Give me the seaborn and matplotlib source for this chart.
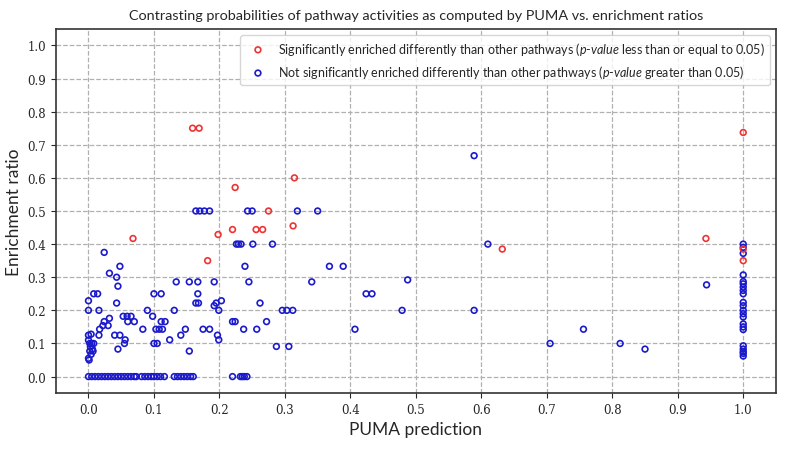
import matplotlib
matplotlib.use("Agg")
import matplotlib.pyplot as plt
import seaborn as sns
import numpy as np

# significant pathways (red)
sig_x = [0.068, 0.159, 0.169, 0.182, 0.198, 0.22, 0.224, 0.256, 0.266,
         0.275, 0.3125, 0.3145, 0.632, 0.943, 1.0, 1.0, 1.0]
sig_y = [0.417, 0.75, 0.75, 0.35, 0.429, 0.444, 0.571, 0.444, 0.444,
         0.5, 0.455, 0.6, 0.385, 0.417, 0.737, 0.385, 0.35]

# not significant pathways (blue)
# ratio exactly zero
zero_x = [0.0, 0.005, 0.01, 0.015, 0.02, 0.025, 0.03, 0.035, 0.04, 0.045,
          0.05, 0.055, 0.06, 0.065, 0.07, 0.073, 0.081, 0.086, 0.091, 0.096,
          0.1, 0.105, 0.11, 0.116, 0.131, 0.136, 0.141, 0.146, 0.151, 0.156,
          0.16, 0.22, 0.232, 0.235, 0.238, 0.242]
# rest of the non significant points
ns_x = [0.0, 0.0, 0.0, 0.004, 0.0, 0.002, 0.005, 0.008, 0.003, 0.006,
        0.002, 0.007, 0.004, 0.0, 0.001,
        0.008, 0.014, 0.016, 0.024, 0.032, 0.048, 0.043, 0.045, 0.043, 0.032,
        0.024, 0.022, 0.03, 0.017, 0.016, 0.04, 0.048, 0.045, 0.053, 0.059,
        0.065, 0.06, 0.07, 0.056, 0.055, 0.083, 0.09, 0.098, 0.1, 0.111,
        0.111, 0.117, 0.103, 0.108, 0.113, 0.1, 0.105, 0.124,
        0.131, 0.141, 0.148, 0.154, 0.134, 0.154, 0.167, 0.192, 0.245, 0.167,
        0.164, 0.168, 0.203, 0.195, 0.192, 0.199, 0.175, 0.185, 0.197, 0.199,
        0.22, 0.224, 0.237, 0.257, 0.262, 0.272, 0.239, 0.164, 0.17, 0.177,
        0.185, 0.243, 0.25, 0.226, 0.229, 0.233, 0.251,
        0.281, 0.319, 0.35, 0.368, 0.389, 0.341, 0.424, 0.433, 0.296, 0.303,
        0.312, 0.407, 0.287, 0.306, 0.4875, 0.479,
        0.589, 0.61, 0.589, 0.705, 0.756, 0.812, 0.85, 0.944,
        1.0, 1.0, 1.0, 1.0, 1.0, 1.0, 1.0, 1.0, 1.0, 1.0, 1.0,
        1.0, 1.0, 1.0, 1.0, 1.0, 1.0, 1.0, 1.0, 1.0, 1.0, 1.0]
ns_y = [0.229, 0.2, 0.125, 0.128, 0.11, 0.1, 0.1, 0.1, 0.09, 0.083,
        0.077, 0.077, 0.067, 0.055, 0.05,
        0.25, 0.25, 0.2, 0.375, 0.312, 0.333, 0.3, 0.273, 0.222, 0.176,
        0.166, 0.154, 0.154, 0.143, 0.125, 0.125, 0.125, 0.083, 0.182, 0.182,
        0.182, 0.166, 0.166, 0.111, 0.1, 0.143, 0.2, 0.182, 0.25, 0.25,
        0.166, 0.166, 0.143, 0.143, 0.143, 0.1, 0.1, 0.111,
        0.2, 0.125, 0.143, 0.077, 0.286, 0.286, 0.286, 0.286, 0.286, 0.25,
        0.222, 0.222, 0.229, 0.222, 0.214, 0.2, 0.143, 0.143, 0.125, 0.111,
        0.166, 0.166, 0.143, 0.143, 0.222, 0.166, 0.333, 0.5, 0.5, 0.5,
        0.5, 0.5, 0.5, 0.4, 0.4, 0.4, 0.4,
        0.4, 0.5, 0.5, 0.333, 0.333, 0.286, 0.25, 0.25, 0.2, 0.2,
        0.2, 0.143, 0.091, 0.091, 0.292, 0.2,
        0.667, 0.4, 0.2, 0.1, 0.143, 0.1, 0.083, 0.277,
        0.4, 0.39, 0.372, 0.307, 0.287, 0.28, 0.27, 0.26, 0.25, 0.224, 0.214,
        0.2, 0.19, 0.18, 0.159, 0.15, 0.142, 0.093, 0.083, 0.075, 0.07, 0.062]

blue_x = zero_x + ns_x
blue_y = [0.0] * len(zero_x) + ns_y

sig_label = ("Significantly enriched differently than other pathways "
             "($p$-$value$ less than or equal to 0.05)")
ns_label = ("Not significantly enriched differently than other pathways "
            "($p$-$value$ greater than 0.05)")
ticks = [0.0, 0.1, 0.2, 0.3, 0.4, 0.5, 0.6, 0.7, 0.8, 0.9, 1.0]

sns.set_style("ticks")
plt.rcParams["font.family"] = ["Lato", "DejaVu Sans"]
plt.rcParams["mathtext.fontset"] = "custom"
plt.rcParams["mathtext.rm"] = "Lato"
plt.rcParams["mathtext.it"] = "Lato:italic"

fig = plt.figure(figsize=(7.85, 4.52), dpi=100)
ax = fig.add_axes([0.071, 0.128, 0.9175, 0.806])

sns.scatterplot(x=blue_x, y=blue_y, ax=ax, marker="o", s=17,
                facecolor="none", edgecolor="#1a1acc", linewidth=1.2,
                label=ns_label, zorder=3)
sns.scatterplot(x=sig_x, y=sig_y, ax=ax, marker="o", s=17,
                facecolor="none", edgecolor="#ee3333", linewidth=1.2,
                label=sig_label, zorder=4)

ax.set_xlim(-0.05, 1.05)
ax.set_ylim(-0.05, 1.05)
ax.set_xticks(ticks)
ax.set_yticks(ticks)
ax.set_xticklabels([f"{t:.1f}" for t in ticks], fontfamily="DejaVu Serif", fontsize=8.5)
ax.set_yticklabels([f"{t:.1f}" for t in ticks], fontfamily="DejaVu Serif", fontsize=8.5)
ax.grid(True, linestyle="--", color="#b0b0b0", linewidth=0.9)
ax.set_axisbelow(True)
for s in ax.spines.values():
    s.set_visible(True)
    s.set_color("#333333")
    s.set_linewidth(1.2)

ax.set_xlabel("PUMA prediction", fontsize=12.5)
ax.set_ylabel("Enrichment ratio", fontsize=12.5)
ax.set_title("Contrasting probabilities of pathway activities as computed by PUMA vs. enrichment ratios",
             fontsize=10.4, pad=7)

handles, labels = ax.get_legend_handles_labels()
ax.legend(handles[::-1], labels[::-1], loc="upper right", fontsize=9.0,
          frameon=True, framealpha=0.8, edgecolor="#cccccc",
          handletextpad=0.6, borderaxespad=0.5)

plt.savefig("out.png", dpi=100)
